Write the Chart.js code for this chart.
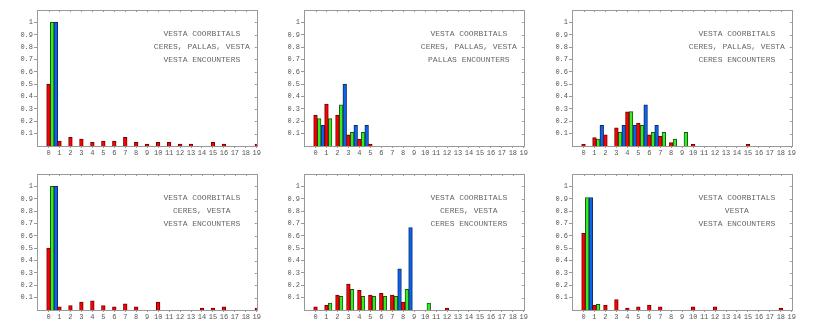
<!DOCTYPE html>
<html>
<head>
<meta charset="utf-8">
<script src="https://cdn.jsdelivr.net/npm/chart.js@4/dist/chart.umd.min.js"></script>
<style>
  body { margin: 0; background: #fff; width: 817px; height: 331px; position: relative; overflow: hidden; }
  canvas { position: absolute; }
</style>
</head>
<body>
<canvas id="c1" width="262" height="162" style="left:0;top:0"></canvas>
<canvas id="c2" width="262" height="162" style="left:267px;top:0"></canvas>
<canvas id="c3" width="262" height="162" style="left:535px;top:0"></canvas>
<canvas id="c4" width="262" height="162" style="left:0;top:164px"></canvas>
<canvas id="c5" width="262" height="162" style="left:267px;top:164px"></canvas>
<canvas id="c6" width="262" height="162" style="left:535px;top:164px"></canvas>
<script>
// categories (x axis) and y tick values
const xLabels = [0, 1, 2, 3, 4, 5, 6, 7, 8, 9, 10, 11, 12, 13, 14, 15, 16, 17, 18, 19];
const yTicks = [0.1, 0.2, 0.3, 0.4, 0.5, 0.6, 0.7, 0.8, 0.9, 1];

// panel texts
const title1 = ['VESTA COORBITALS', 'CERES, PALLAS, VESTA', 'VESTA ENCOUNTERS'];
const title2 = ['VESTA COORBITALS', 'CERES, PALLAS, VESTA', 'PALLAS ENCOUNTERS'];
const title3 = ['VESTA COORBITALS', 'CERES, PALLAS, VESTA', 'CERES ENCOUNTERS'];
const title4 = ['VESTA COORBITALS', 'CERES, VESTA', 'VESTA ENCOUNTERS'];
const title5 = ['VESTA COORBITALS', 'CERES, VESTA', 'CERES ENCOUNTERS'];
const title6 = ['VESTA COORBITALS', 'VESTA', 'VESTA ENCOUNTERS'];

// series values, one triple (red, green, blue) per panel
const red1   = [0.5, 0.04, 0.07, 0.055, 0.03, 0.04, 0.04, 0.07, 0.03, 0.015, 0.03, 0.03, 0.015, 0.015, 0, 0.03, 0.015, 0, 0, 0.015];
const green1 = [1, 0, 0, 0, 0, 0, 0, 0, 0, 0, 0, 0, 0, 0, 0, 0, 0, 0, 0, 0];
const blue1  = [1, 0, 0, 0, 0, 0, 0, 0, 0, 0, 0, 0, 0, 0, 0, 0, 0, 0, 0, 0];

const red2   = [0.25, 0.34, 0.25, 0.09, 0.055, 0.015, 0, 0, 0, 0, 0, 0, 0, 0, 0, 0, 0, 0, 0, 0];
const green2 = [0.222, 0.222, 0.333, 0.111, 0.111, 0, 0, 0, 0, 0, 0, 0, 0, 0, 0, 0, 0, 0, 0, 0];
const blue2  = [0.167, 0, 0.5, 0.167, 0.167, 0, 0, 0, 0, 0, 0, 0, 0, 0, 0, 0, 0, 0, 0, 0];

const red3   = [0.014, 0.068, 0.09, 0.146, 0.276, 0.186, 0.09, 0.078, 0.027, 0, 0.014, 0, 0, 0, 0, 0.014, 0, 0, 0, 0];
const green3 = [0, 0.056, 0, 0.111, 0.278, 0.167, 0.111, 0.111, 0.056, 0.111, 0, 0, 0, 0, 0, 0, 0, 0, 0, 0];
const blue3  = [0, 0.167, 0, 0.167, 0.167, 0.333, 0.167, 0, 0, 0, 0, 0, 0, 0, 0, 0, 0, 0, 0, 0];

const red4   = [0.5, 0.025, 0.035, 0.065, 0.075, 0.035, 0.025, 0.05, 0.025, 0, 0.065, 0, 0, 0, 0.015, 0.015, 0.025, 0, 0, 0.015];
const green4 = [1, 0, 0, 0, 0, 0, 0, 0, 0, 0, 0, 0, 0, 0, 0, 0, 0, 0, 0, 0];
const blue4  = [1, 0, 0, 0, 0, 0, 0, 0, 0, 0, 0, 0, 0, 0, 0, 0, 0, 0, 0, 0];

const red5   = [0.025, 0.04, 0.12, 0.21, 0.16, 0.12, 0.135, 0.12, 0.065, 0, 0, 0, 0.015, 0, 0, 0, 0, 0, 0, 0];
const green5 = [0, 0.056, 0.111, 0.167, 0.111, 0.111, 0.111, 0.111, 0.167, 0, 0.056, 0, 0, 0, 0, 0, 0, 0, 0, 0];
const blue5  = [0, 0, 0, 0, 0, 0, 0, 0.333, 0.667, 0, 0, 0, 0, 0, 0, 0, 0, 0, 0, 0];

const red6   = [0.62, 0.04, 0.04, 0.085, 0.015, 0.025, 0.04, 0.025, 0, 0, 0.025, 0, 0.025, 0, 0, 0, 0, 0, 0.015, 0];
const green6 = [0.91, 0.045, 0, 0, 0, 0, 0, 0, 0, 0, 0, 0, 0, 0, 0, 0, 0, 0, 0, 0];
const blue6  = [0.91, 0, 0, 0, 0, 0, 0, 0, 0, 0, 0, 0, 0, 0, 0, 0, 0, 0, 0, 0];

const panels = [
  ['c1', title1, red1, green1, blue1],
  ['c2', title2, red2, green2, blue2],
  ['c3', title3, red3, green3, blue3],
  ['c4', title4, red4, green4, blue4],
  ['c5', title5, red5, green5, blue5],
  ['c6', title6, red6, green6, blue6]
];

// frame, inner ticks and the three text lines
const framePlugin = {
  id: 'frame',
  afterDatasetsDraw(chart, args, opts) {
    const { ctx, chartArea: a, scales: { x, y } } = chart;
    ctx.save();
    ctx.strokeStyle = '#999';
    ctx.lineWidth = 1;
    ctx.strokeRect(Math.round(a.left) + 0.5, Math.round(a.top) + 0.5,
      Math.round(a.right - a.left), Math.round(a.bottom - a.top));
    ctx.beginPath();
    xLabels.forEach(v => {
      const px = Math.round(x.getPixelForValue(v)) + 0.5;
      ctx.moveTo(px, a.top); ctx.lineTo(px, a.top + 2);
    });
    yTicks.forEach(v => {
      const py = Math.round(y.getPixelForValue(v)) + 0.5;
      ctx.moveTo(a.right, py); ctx.lineTo(a.right - 2, py);
    });
    ctx.stroke();
    ctx.fillStyle = '#666';
    ctx.font = '8px "Liberation Mono"';
    ctx.textAlign = 'center';
    ctx.textBaseline = 'middle';
    const cx = a.left + 0.75 * (a.right - a.left);
    opts.lines.forEach((t, i) => ctx.fillText(t, cx, a.top + 24 + i * 13));
    ctx.restore();
  }
};

function series(vals, off, fill, border) {
  return {
    data: vals.map((v, i) => ({ x: xLabels[i] + off, y: v })),
    backgroundColor: fill,
    borderColor: border,
    borderWidth: 1,
    grouped: false,
    barPercentage: 1,
    categoryPercentage: 1
  };
}

const tickFont = { family: 'Liberation Mono', size: 7 };

panels.forEach(([id, lines, r, g, b]) => {
  new Chart(document.getElementById(id), {
    type: 'bar',
    data: {
      datasets: [
        series(r, 0, '#ff0000', '#6e0000'),
        series(g, 1 / 3, '#33ee22', '#1c5a14'),
        series(b, 2 / 3, '#0a64f0', '#0c2a66')
      ]
    },
    options: {
      responsive: false,
      animation: false,
      layout: { padding: { top: 10, right: 4, left: 0, bottom: 0 } },
      plugins: { legend: { display: false }, tooltip: { enabled: false }, frame: { lines: lines } },
      scales: {
        x: {
          type: 'linear',
          offset: false,
          min: -1.05,
          max: 19,
          afterBuildTicks: s => { s.ticks = xLabels.map(v => ({ value: v })); },
          afterFit: s => { s.height = 16; },
          ticks: { autoSkip: false, maxRotation: 0, font: tickFont, color: '#555', padding: 1, callback: v => String(v) },
          grid: { drawOnChartArea: false, tickLength: 2, color: '#999', offset: false },
          border: { display: false }
        },
        y: {
          min: 0,
          max: 1.1,
          afterBuildTicks: s => { s.ticks = yTicks.map(v => ({ value: v })); },
          afterFit: s => { s.width = 37; },
          ticks: { font: tickFont, color: '#555', padding: 1, callback: v => (v === 1 ? '1' : v.toFixed(1)) },
          grid: { drawOnChartArea: false, tickLength: 3, color: '#999' },
          border: { display: false }
        }
      }
    },
    plugins: [framePlugin]
  });
});
</script>
</body>
</html>
